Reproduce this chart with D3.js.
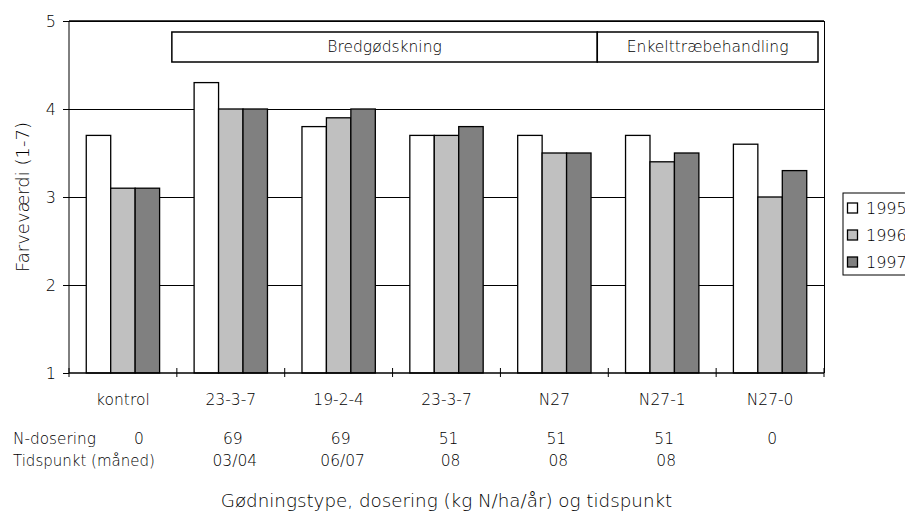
<!DOCTYPE html>
<html>
<head>
<meta charset="utf-8">
<script src="https://cdn.jsdelivr.net/npm/d3@7"></script>
<style>
  body { margin: 0; background: #fff; }
  svg text { font-family: "DejaVu Sans", sans-serif; font-weight: 200; fill: #000; }
</style>
</head>
<body>
<div id="chart-container"></div>
<script>
// data
var categories = ["kontrol", "23-3-7", "19-2-4", "23-3-7", "N27", "N27-1", "N27-0"];
var years = ["1995", "1996", "1997"];
var v1995 = [3.7, 4.3, 3.8, 3.7, 3.7, 3.7, 3.6];
var v1996 = [3.1, 4.0, 3.9, 3.7, 3.5, 3.4, 3.0];
var v1997 = [3.1, 4.0, 4.0, 3.8, 3.5, 3.5, 3.3];
var dosering = ["0", "69", "69", "51", "51", "51", "0"];
var tidspunkt = ["", "03/04", "06/07", "08", "08", "08", ""];
var yTicks = [1, 2, 3, 4, 5];
// header boxes: first and last category covered
var groups = [
  {label: "Bredgødskning", from: 1, to: 4},
  {label: "Enkelttræbehandling", from: 5, to: 6}
];

var colors = ["#ffffff", "#c0c0c0", "#808080"];
var series = [v1995, v1996, v1997];

var margin = {top: 21, right: 81, bottom: 138, left: 69};
var svgWidth = 905, svgHeight = 511;
var width = svgWidth - margin.left - margin.right;
var height = svgHeight - margin.top - margin.bottom;

var svg = d3.select("#chart-container").append("svg")
  .attr("width", svgWidth)
  .attr("height", svgHeight)
  .append("g")
  .attr("transform", "translate(" + margin.left + "," + margin.top + ")");

var x = d3.scaleBand().domain(d3.range(categories.length)).range([0, width]).paddingInner(0.32).paddingOuter(0.16);
var band = d3.scaleBand().domain(d3.range(categories.length)).range([0, width]);
var xs = d3.scaleBand().domain(years).range([0, x.bandwidth()]);
var y = d3.scaleLinear().domain([1, 5]).range([height, 0]);

// gridlines
svg.append("g").attr("class", "grid")
  .selectAll("line").data(yTicks.slice(1))
  .enter().append("line")
  .attr("x1", 0).attr("x2", width)
  .attr("y1", d => y(d)).attr("y2", d => y(d))
  .attr("stroke", "#000").attr("stroke-width", 1).attr("shape-rendering", "crispEdges");

// right border
svg.append("line")
  .attr("x1", width).attr("x2", width).attr("y1", 0).attr("y2", height)
  .attr("stroke", "#000").attr("shape-rendering", "crispEdges");

// bars
var rows = [];
categories.forEach(function(c, i) {
  years.forEach(function(yr, j) { rows.push({cat: i, year: yr, j: j, v: series[j][i]}); });
});
svg.selectAll("rect.bar").data(rows).enter().append("rect")
  .attr("class", "bar")
  .attr("x", d => x(d.cat) + xs(d.year))
  .attr("width", xs.bandwidth())
  .attr("y", d => y(d.v))
  .attr("height", d => height - y(d.v))
  .attr("fill", d => colors[d.j])
  .attr("stroke", "#000").attr("stroke-width", 1.3);

// y axis
var yAxis = d3.axisLeft(y).tickValues(yTicks).tickSize(6).tickPadding(7).tickFormat(d3.format("d"));
var gy = svg.append("g").attr("class", "y axis").call(yAxis);
gy.select(".domain").attr("stroke", "#000").attr("d", "M0,0V" + height);
gy.selectAll("text").style("font-size", "16px").style("font-family", "DejaVu Sans").style("font-weight", "200");
gy.selectAll("line").attr("stroke", "#000");

// x axis with crossing ticks at band edges
svg.append("line")
  .attr("x1", 0).attr("x2", width).attr("y1", height).attr("y2", height)
  .attr("stroke", "#000").attr("stroke-width", 1.3);
var edges = d3.range(categories.length + 1).map(i => i * band.bandwidth());
svg.append("g").selectAll("line").data(edges).enter().append("line")
  .attr("x1", d => d).attr("x2", d => d)
  .attr("y1", height - 5).attr("y2", height + 4)
  .attr("stroke", "#000");

svg.append("g").selectAll("text").data(categories).enter().append("text")
  .attr("x", (d, i) => band(i) + band.bandwidth() / 2)
  .attr("y", height + 32)
  .attr("text-anchor", "middle").style("font-size", "15.5px")
  .text(d => d);

// dosering and tidspunkt rows
svg.append("text").attr("x", -56).attr("y", height + 71).style("font-size", "15.3px").text("N-dosering");
svg.append("text").attr("x", -56).attr("y", height + 93).style("font-size", "15px").text("Tidspunkt (måned)");
svg.append("g").selectAll("text").data(dosering).enter().append("text")
  .attr("x", (d, i) => band(i) + band.bandwidth() / 2 + (i === 0 ? 16 : 2))
  .attr("y", height + 71)
  .attr("text-anchor", "middle").style("font-size", "15.5px")
  .text(d => d);
svg.append("g").selectAll("text").data(tidspunkt).enter().append("text")
  .attr("x", (d, i) => band(i) + band.bandwidth() / 2 + 4)
  .attr("y", height + 93)
  .attr("text-anchor", "middle").style("font-size", "15.5px")
  .text(d => d);

// x title
svg.append("text")
  .attr("x", width / 2).attr("y", height + 134)
  .attr("text-anchor", "middle").style("font-size", "18.3px")
  .text("Gødningstype, dosering (kg N/ha/år) og tidspunkt");

// y title
svg.append("text")
  .attr("transform", "translate(" + (-40) + "," + (height / 2) + ") rotate(-90)")
  .attr("text-anchor", "middle").style("font-size", "18px")
  .text("Farveværdi (1-7)");

// top border
svg.append("line")
  .attr("x1", 0).attr("x2", width).attr("y1", 0).attr("y2", 0)
  .attr("stroke", "#000").attr("stroke-width", 1.5);

// header boxes
var hb = svg.append("g").attr("class", "headers");
groups.forEach(function(g, k) {
  var x0 = k === 0 ? band(g.from) - 5 : band(g.from) - 11;
  var x1 = k === groups.length - 1 ? band(g.to) + band.bandwidth() - 6 : band(g.to) + band.bandwidth() - 11;
  hb.append("rect")
    .attr("x", x0).attr("y", 11).attr("width", x1 - x0).attr("height", 30)
    .attr("fill", "#fff").attr("stroke", "#000").attr("stroke-width", 1.5);
  hb.append("text")
    .attr("x", (x0 + x1) / 2).attr("y", 31)
    .attr("text-anchor", "middle").style("font-size", "15.5px")
    .text(g.label);
});

// legend
var lg = svg.append("g").attr("transform", "translate(" + (width + 19) + "," + 172 + ")");
lg.append("rect").attr("x", 0).attr("y", 0).attr("width", 80).attr("height", 82)
  .attr("fill", "#fff").attr("stroke", "#000");
years.forEach(function(yr, j) {
  var row = lg.append("g").attr("transform", "translate(0," + (15 + j * 27) + ")");
  row.append("rect").attr("x", 4.5).attr("y", -5).attr("width", 10).attr("height", 10)
    .attr("fill", colors[j]).attr("stroke", "#000").attr("stroke-width", 1.3);
  row.append("text").attr("x", 23).attr("y", 6).style("font-size", "16px").text(yr);
});
</script>
</body>
</html>
